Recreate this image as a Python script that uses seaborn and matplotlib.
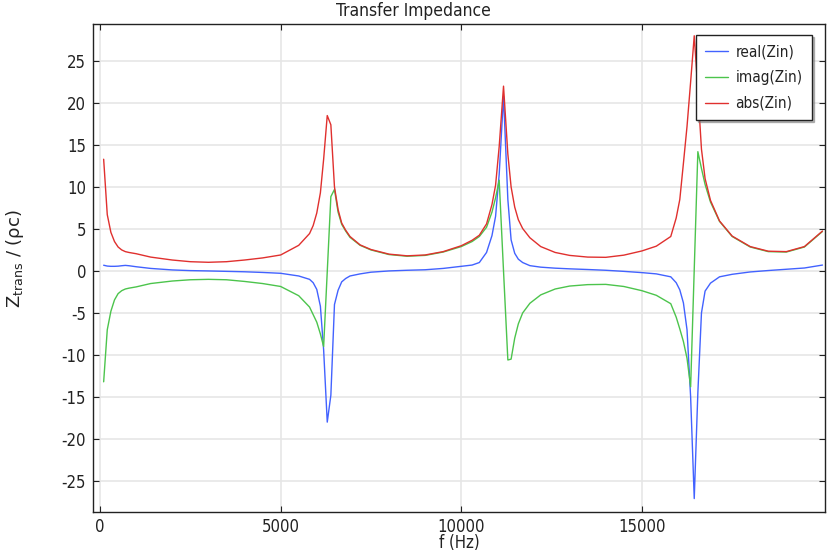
import numpy as np
import pandas as pd
import matplotlib
matplotlib.use("Agg")
import matplotlib.pyplot as plt
import seaborn as sns

# ---- data ----
freq = [100, 200, 300, 400, 500, 600, 700, 800, 1000, 1400, 2000, 2500, 3000, 3500, 4000, 4500, 5000,
        5500, 5800, 5900, 6000, 6100, 6190, 6290, 6390, 6490, 6590, 6690, 6800, 6920, 7200,
        7500, 8000, 8500, 9000, 9500, 10000, 10300,
        10500, 10700, 10850, 10950, 11050, 11170, 11290, 11380, 11480, 11580, 11700, 11900,
        12200, 12600, 13000, 13500, 14000, 14500, 15000, 15400, 15800, 15950,
        16050, 16150, 16250, 16350, 16450, 16550, 16650, 16750, 16900, 17150,
        17500, 18000, 18500, 19000, 19500, 20000]

real_zin = [0.68, 0.58, 0.55, 0.55, 0.57, 0.62, 0.66, 0.62, 0.50, 0.30, 0.12, 0.04, 0.00, -0.05, -0.10, -0.18, -0.28,
            -0.60, -1.0, -1.4, -2.2, -4.2, -9.4, -18.0, -14.8, -4.0, -2.3, -1.3, -0.9, -0.6, -0.35,
            -0.15, 0.0, 0.08, 0.14, 0.30, 0.55, 0.70,
            1.0, 2.2, 4.2, 6.5, 11.5, 20.8, 8.5, 3.7, 2.1, 1.4, 1.0, 0.63,
            0.45, 0.33, 0.25, 0.17, 0.08, -0.05, -0.2, -0.35, -0.7, -1.4,
            -2.25, -3.8, -7.0, -15.0, -27.1, -14.5, -5.0, -2.4, -1.45, -0.7,
            -0.4, -0.12, 0.05, 0.2, 0.35, 0.7]

imag_zin = [-13.2, -7.0, -4.8, -3.45, -2.7, -2.35, -2.15, -2.05, -1.9, -1.5, -1.2, -1.05, -1.0, -1.05, -1.25, -1.5, -1.85,
            -2.95, -4.3, -5.2, -6.1, -7.5, -9.0, -0.1, 8.85, 9.7, 7.0, 5.55, 4.75, 4.0, 3.05,
            2.5, 1.95, 1.75, 1.85, 2.25, 2.9, 3.5,
            4.1, 5.2, 7.0, 8.7, 10.8, 0.0, -10.6, -10.5, -8.0, -6.3, -5.0, -3.85,
            -2.85, -2.15, -1.8, -1.63, -1.6, -1.85, -2.35, -2.9, -3.9, -5.5,
            -6.9, -8.4, -10.4, -13.8, 0.2, 14.2, 12.2, 10.3, 8.2, 5.9,
            4.1, 2.85, 2.3, 2.25, 2.85, 4.7]

abs_zin = [13.3, 6.7, 4.6, 3.5, 2.85, 2.5, 2.3, 2.2, 2.05, 1.65, 1.3, 1.1, 1.03, 1.1, 1.3, 1.55, 1.9,
           3.05, 4.45, 5.4, 6.9, 9.3, 13.3, 18.5, 17.4, 10.0, 7.3, 5.7, 4.85, 4.1, 3.1,
           2.55, 2.0, 1.8, 1.9, 2.3, 3.0, 3.65,
           4.25, 5.6, 7.9, 10.2, 14.8, 22.0, 13.9, 10.0, 7.6, 6.1, 5.05, 3.95,
           2.9, 2.2, 1.85, 1.65, 1.62, 1.88, 2.38, 2.95, 4.1, 6.3,
           8.5, 12.8, 17.2, 22.5, 28.0, 21.5, 14.5, 11.0, 8.4, 5.95,
           4.15, 2.9, 2.35, 2.3, 2.9, 4.75]

series_names = ["real(Zin)", "imag(Zin)", "abs(Zin)"]
series_colors = ["#4262ff", "#4cc44c", "#e0302e"]
x_ticks = [0, 5000, 10000, 15000]
y_ticks = [-25, -20, -15, -10, -5, 0, 5, 10, 15, 20, 25]

df = pd.concat([
    pd.DataFrame({"f": freq, "Z": vals, "series": name})
    for name, vals in zip(series_names, [real_zin, imag_zin, abs_zin])
], ignore_index=True)

# ---- style ----
sns.set_theme(style="whitegrid")
plt.rcParams["font.family"] = ["DejaVu Sans"]
plt.rcParams["font.stretch"] = "condensed"
plt.rcParams["axes.unicode_minus"] = False

fig = plt.figure(figsize=(8.27, 5.52), dpi=100)
ax = fig.add_axes([93 / 827, 1 - 512 / 552, (825 - 93) / 827, (512 - 24) / 552])

sns.lineplot(data=df, x="f", y="Z", hue="series", hue_order=series_names,
             palette=dict(zip(series_names, series_colors)), linewidth=1.0,
             sort=False, estimator=None, ax=ax)

ax.set_xlim(-195, 20070)
ax.set_ylim(-28.7, 29.4)
ax.set_xticks(x_ticks)
ax.set_yticks(y_ticks)
ax.grid(True, color="#e6e6e6", linewidth=1.2)
for s in ax.spines.values():
    s.set_visible(True)
    s.set_color("#222222")
    s.set_linewidth(1.0)
ax.tick_params(direction="in", length=4, width=0.8, color="#222222",
               top=True, right=True, bottom=True, left=True,
               labelsize=12, labelcolor="#222222")
ax.tick_params(axis="x", pad=4)
ax.tick_params(axis="y", pad=5)
ax.set_facecolor("white")

fig.text(0.5, 1 - 11 / 552, "Transfer Impedance", ha="center", va="center",
         fontsize=12.5, color="#222222")
ax.set_xlabel("f (Hz)", fontsize=12, color="#222222", labelpad=-1)
ax.set_ylabel(r"$\mathregular{Z_{trans}}$ / (ρc)", fontsize=13, color="#222222",
              fontstretch="normal")
ax.yaxis.set_label_coords((26 - 93) / 732, 0.52)

leg = ax.legend(loc="upper left", bbox_to_anchor=(696 / 827, 1 - 35 / 552),
                bbox_transform=fig.transFigure, frameon=True, fancybox=False,
                shadow={"ox": 1.5, "oy": -1.5, "color": "#777777"},
                edgecolor="#222222", fontsize=11, handlelength=1.5, handletextpad=0.45,
                borderaxespad=0, framealpha=1, borderpad=0.62, labelspacing=0.7)
leg.get_frame().set_linewidth(1.0)
for t in leg.get_texts():
    t.set_color("#222222")

fig.savefig("out.png", dpi=100)
